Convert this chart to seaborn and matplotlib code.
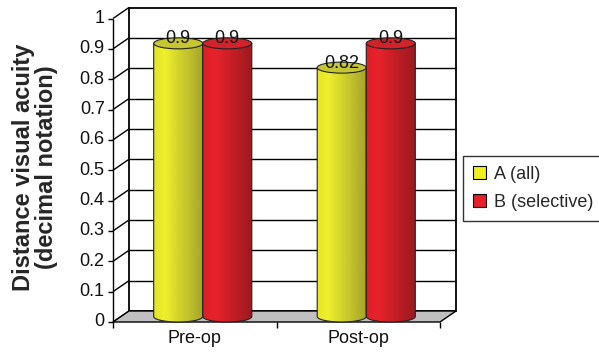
import numpy as np
import pandas as pd
import matplotlib
matplotlib.use("Agg")
import matplotlib.pyplot as plt
import seaborn as sns
from matplotlib.patches import Polygon, Ellipse, PathPatch, Patch, Rectangle
from matplotlib.path import Path

# ---- data -------------------------------------------------------------
stages = ["Pre-op", "Post-op"]
groups = ["A (all)", "B (selective)"]
acuity_a = [0.9, 0.82]
acuity_b = [0.9, 0.9]
y_ticks = [0, 0.1, 0.2, 0.3, 0.4, 0.5, 0.6, 0.7, 0.8, 0.9, 1.0]
y_tick_labels = ["0", "0.1", "0.2", "0.3", "0.4", "0.5", "0.6", "0.7", "0.8", "0.9", "1"]

df = pd.DataFrame({
    "stage": stages * 2,
    "group": [groups[0]] * len(stages) + [groups[1]] * len(stages),
    "acuity": acuity_a + acuity_b,
})

# ---- styling ----------------------------------------------------------
sns.set_style("white")
plt.rcParams["font.family"] = ["Liberation Sans", "DejaVu Sans"]

flat_colors = ["#f0f020", "#e82028"]
gradient_stops = [
    [(0.0, "#e4e42a"), (0.22, "#efef2c"), (1.0, "#a3a32c")],
    [(0.0, "#dc1e26"), (0.25, "#e8222b"), (1.0, "#981a1f")],
]
top_colors = ["#c6c632", "#d0222a"]

fig = plt.figure(figsize=(5.99, 3.54), dpi=100)
ax = fig.add_axes([121 / 599, 37.5 / 354, 327 / 599, 303.5 / 354])

sns.barplot(data=df, x="stage", y="acuity", hue="group", order=stages,
            hue_order=groups, palette=flat_colors, width=0.6,
            errorbar=None, legend=False, ax=ax)
bars = list(ax.patches)

ax.set_xlim(-0.5, 1.5)
ax.set_ylim(0, 1)
ax.set_axis_off()

# depth of the 3-D box (half depth, in pixels) converted to data units
DX, DY = 8.0, 5.5
px_x = ax.bbox.width / 2.0
px_y = ax.bbox.height / 1.0
dxd, dyd = DX / px_x, DY / px_y
ryd = 5.5 / px_y  # vertical semi-axis of cylinder caps

x_lo, x_hi = -0.5, 1.5
line_kw = dict(color="black", lw=1.0, clip_on=False, solid_capstyle="butt")

# back wall with gridlines
ax.add_patch(Rectangle((x_lo + dxd, dyd), x_hi - x_lo, 1.0, facecolor="white",
                       edgecolor="black", lw=1.3, zorder=0.5, clip_on=False))
for t in y_ticks[1:-1]:
    ax.plot([x_lo + dxd, x_hi + dxd], [t + dyd, t + dyd], zorder=0.6, **line_kw)

# floor
floor = [(x_lo - dxd, -dyd), (x_hi - dxd, -dyd), (x_hi + dxd, dyd), (x_lo + dxd, dyd)]
ax.add_patch(Polygon(floor, closed=True, facecolor="#c0c0c0", edgecolor="black",
                     lw=1.0, zorder=1, clip_on=False))

# left side wall: diagonal lines at each tick, front value axis
for t in y_ticks:
    ax.plot([x_lo - dxd, x_lo + dxd], [t - dyd, t + dyd], zorder=0.7, **line_kw)
ax.plot([x_lo - dxd, x_lo - dxd], [-dyd, 1 - dyd], zorder=1.2, **line_kw)
ax.plot([x_lo - dxd] * len(y_ticks), [t - dyd for t in y_ticks], marker=0,
        markersize=3.6, markeredgewidth=1.0, color="black", ls="none",
        clip_on=False, zorder=1.2)
for t, lbl in zip(y_ticks, y_tick_labels):
    ax.annotate(lbl, (x_lo - dxd, t - dyd), xytext=(-6, 0),
                textcoords="offset points", ha="right", va="center",
                fontsize=13, color="#111111", annotation_clip=False)

# category axis ticks and labels
ax.plot([x_lo - dxd, 0.5 - dxd, x_hi - dxd], [-dyd] * 3, marker=3,
        markersize=4.5, markeredgewidth=1.0, color="black", ls="none",
        clip_on=False, zorder=1.2)
for i, s in enumerate(stages):
    ax.annotate(s, (i - dxd, -dyd), xytext=(0, -5.5), textcoords="offset points",
                ha="center", va="top", fontsize=13, color="#111111",
                annotation_clip=False)

# cylinders built on the seaborn bar geometry
values = acuity_a + acuity_b
theta = np.linspace(np.pi, 2 * np.pi, 60)
for k, (p, v) in enumerate(zip(bars, values)):
    g = k // len(stages)
    x0, w, h = p.get_x(), p.get_width(), p.get_height()
    xc, x1 = x0 + w / 2, x0 + w
    p.set_visible(False)
    z = 3 + k * 0.1

    verts = [(x0, h), (x0, 0)]
    verts += [(xc + w / 2 * np.cos(a), ryd * np.sin(a)) for a in theta]
    verts += [(x1, h), (x0, h)]
    body_path = Path(verts, [Path.MOVETO] + [Path.LINETO] * (len(verts) - 2) + [Path.CLOSEPOLY])
    body = PathPatch(body_path, facecolor="none", edgecolor="none",
                     transform=ax.transData)

    pos = np.linspace(0, 1, 200)
    stops = gradient_stops[g]
    rgb = np.zeros((1, 200, 3))
    for c in range(3):
        sx = [s[0] for s in stops]
        sy = [matplotlib.colors.to_rgb(s[1])[c] for s in stops]
        rgb[0, :, c] = np.interp(pos, sx, sy)
    im = ax.imshow(rgb, extent=[x0, x1, -ryd, h], aspect="auto",
                   origin="lower", interpolation="bilinear", zorder=z)
    im.set_clip_box(fig.bbox)
    im.set_clip_path(body)

    ax.add_patch(PathPatch(body_path, facecolor="none", edgecolor="#222222",
                           lw=0.8, zorder=z + 0.01, clip_on=False))
    ax.add_patch(Ellipse((xc, h), w, 2 * ryd, facecolor=top_colors[g],
                         edgecolor="#222222", lw=0.8, zorder=z + 0.02,
                         clip_on=False))
    ax.text(xc, v, f"{v:g}", ha="center", va="baseline", fontsize=13,
            color="#111111", zorder=10, clip_on=False)

ax.set_xlim(-0.5, 1.5)
ax.set_ylim(0, 1)

# axis title
fig.text(35 / 599, 0.528, "Distance visual acuity\n(decimal notation)",
         rotation=90, ha="center", va="center", fontsize=17,
         fontweight="bold", linespacing=0.95, multialignment="center")

# legend
handles = [Patch(facecolor=c, edgecolor="black", lw=0.8) for c in flat_colors]
leg = fig.legend(handles=handles, labels=groups, loc="center left",
                 bbox_to_anchor=(463 / 599, (354 - 188.5) / 354),
                 frameon=True, fancybox=False, edgecolor="black", fontsize=13,
                 handlelength=0.75, handleheight=0.75, handletextpad=0.4,
                 labelspacing=0.6, borderpad=0.55, borderaxespad=0)
leg.get_frame().set_linewidth(1.0)

fig.savefig("out.png", dpi=100, facecolor="white")
